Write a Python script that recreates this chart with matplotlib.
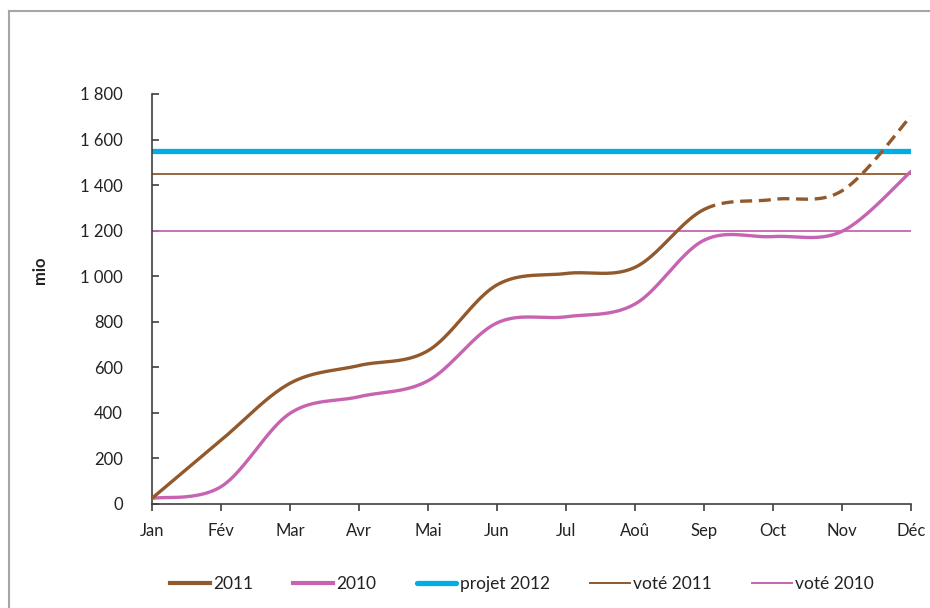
import numpy as np
import matplotlib
matplotlib.use("Agg")
import matplotlib.pyplot as plt
from matplotlib.lines import Line2D
from matplotlib.ticker import FuncFormatter, MultipleLocator

months = ["Jan", "Fév", "Mar", "Avr", "Mai", "Jun", "Jul", "Aoû", "Sep", "Oct", "Nov", "Déc"]
serie_2011 = [25, 280, 530, 608, 673, 962, 1012, 1039, 1293, 1337, 1375, 1703]
serie_2010 = [25, 76, 398, 471, 541, 795, 822, 878, 1158, 1174, 1197, 1460]
projet_2012 = 1550
vote_2011 = 1450
vote_2010 = 1200
dash_start = 8  # 2011 is dashed from Sep onwards (forecast)

C_BROWN = "#92592C"
C_PINK = "#C664B2"
C_CYAN = "#00AEE6"

plt.rcParams['font.family'] = ['Lato', 'DejaVu Sans']


def smooth(xs, ys, n=40):
    """Excel-like smoothed line (Catmull-Rom Bezier through the points)."""
    xs = np.asarray(xs, float)
    ys = np.asarray(ys, float)
    P = np.column_stack([xs, ys])
    m = len(P)
    out = []
    for i in range(m - 1):
        p0 = P[i - 1] if i > 0 else P[i]
        p1 = P[i]
        p2 = P[i + 1]
        p3 = P[i + 2] if i + 2 < m else P[i + 1]
        c1 = p1 + (p2 - p0) / 6.0
        c2 = p2 - (p3 - p1) / 6.0
        t = np.linspace(0, 1, n)[:, None]
        seg = ((1 - t) ** 3) * p1 + 3 * ((1 - t) ** 2) * t * c1 + 3 * (1 - t) * t ** 2 * c2 + t ** 3 * p2
        if i > 0:
            seg = seg[1:]
        out.append(seg)
    pts = np.vstack(out)
    return pts[:, 0], pts[:, 1]


fig = plt.figure(figsize=(9.3, 6.08), dpi=100)
ax = fig.add_axes([152 / 930, 104 / 608, 759 / 930, 410 / 608])

x = np.arange(len(months))

# horizontal reference lines
ax.plot([x[0], x[-1]], [vote_2010, vote_2010], color=C_PINK, lw=1.3, zorder=2)
ax.plot([x[0], x[-1]], [vote_2011, vote_2011], color=C_BROWN, lw=1.3, zorder=2)
ax.plot([x[0], x[-1]], [projet_2012, projet_2012], color=C_CYAN, lw=3.8,
        solid_capstyle='round', zorder=2)

# 2010
sx, sy = smooth(x, serie_2010)
ax.plot(sx, sy, color=C_PINK, lw=2.4, solid_capstyle='round', zorder=3)

# 2011 (solid then dashed)
sx, sy = smooth(x, serie_2011)
solid = sx <= dash_start + 1e-9
dashed = sx >= dash_start - 1e-9
ax.plot(sx[solid], sy[solid], color=C_BROWN, lw=2.4, solid_capstyle='round', zorder=4)
ax.plot(sx[dashed], sy[dashed], color=C_BROWN, lw=2.4, linestyle=(0, (3.6, 2.0)),
        dash_capstyle='butt', zorder=4)

ax.set_xlim(0, 11)
ax.set_ylim(0, 1800)
ax.set_xticks(x)
ax.set_xticklabels(months)
ax.yaxis.set_major_locator(MultipleLocator(200))
ax.yaxis.set_major_formatter(FuncFormatter(lambda v, p: f"{v:,.0f}".replace(",", " ")))

for s in ["top", "right"]:
    ax.spines[s].set_visible(False)
for s in ["left", "bottom"]:
    ax.spines[s].set_color("#404040")
    ax.spines[s].set_linewidth(1.2)

ax.tick_params(axis='y', direction='in', length=5, width=1.2, color="#404040",
               labelsize=12, labelcolor="#222222", pad=21)
ax.tick_params(axis='x', direction='out', length=5, width=1.2, color="#404040",
               labelsize=12, labelcolor="#222222", pad=9)

fig.text(40 / 930, 1 - 270 / 608, "mio", rotation=90, fontsize=12, fontweight='bold',
         ha='center', va='center', color="#222222")

handles = [
    Line2D([], [], color=C_BROWN, lw=3),
    Line2D([], [], color=C_PINK, lw=3),
    Line2D([], [], color=C_CYAN, lw=3.8, solid_capstyle='round'),
    Line2D([], [], color=C_BROWN, lw=1.4),
    Line2D([], [], color=C_PINK, lw=1.4),
]
labels = ["2011", "2010", "projet 2012", "voté 2011", "voté 2010"]
fig.legend(handles, labels, loc='center', bbox_to_anchor=(522 / 930, 1 - 584 / 608),
           ncol=5, frameon=False, fontsize=12.5, handlelength=2.3, handletextpad=0.2,
           columnspacing=2.3, labelcolor="#222222")

# outer frame (left and top edges visible)
fig.add_artist(Line2D([9 / 930, 9 / 930], [0, 1 - 11 / 608], transform=fig.transFigure,
                      color="#A6A6A6", lw=1.5))
fig.add_artist(Line2D([9 / 930, 1], [1 - 11 / 608, 1 - 11 / 608], transform=fig.transFigure,
                      color="#A6A6A6", lw=1.5))

fig.savefig("out.png", dpi=100)
